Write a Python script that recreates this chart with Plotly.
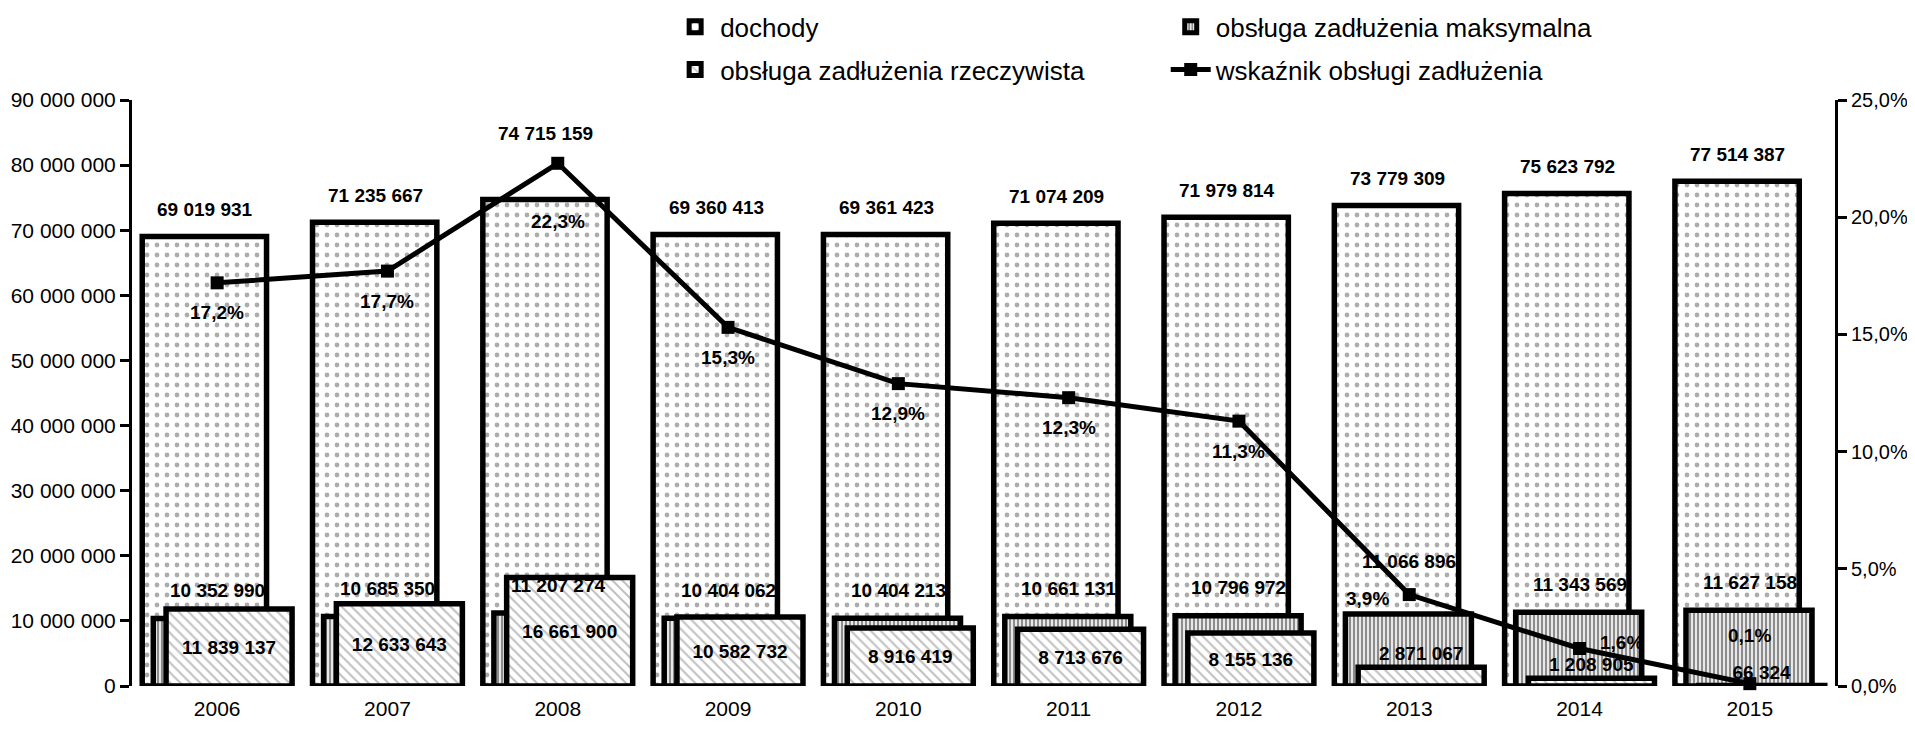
import plotly.graph_objects as go

years = ["2006", "2007", "2008", "2009", "2010", "2011", "2012", "2013", "2014", "2015"]
dochody = [69019931, 71235667, 74715159, 69360413, 69361423, 71074209, 71979814, 73779309, 75623792, 77514387]
obsl_max = [10352990, 10685350, 11207274, 10404062, 10404213, 10661131, 10796972, 11066896, 11343569, 11627158]
obsl_rzecz = [11839137, 12633643, 16661900, 10582732, 8916419, 8713676, 8155136, 2871067, 1208905, 66324]
wskaznik = [17.2, 17.7, 22.3, 15.3, 12.9, 12.3, 11.3, 3.9, 1.6, 0.1]

FONT = "Liberation Sans, Arial, sans-serif"

def fmt_num(v):
    return f"{v:,}".replace(",", " ")

def fmt_pct(v):
    return f"{v:.1f}%".replace(".", ",")

fig = go.Figure()

fig.add_trace(go.Bar(
    x=years, y=dochody, name="dochody", legend="legend", legendgroup="a",
    offset=-0.44, width=0.73,
    marker=dict(color="white", line=dict(color="black", width=5.5),
                pattern=dict(shape=".", fgcolor="#5a5a5a", bgcolor="white", size=10, solidity=0.18)),
))

fig.add_trace(go.Bar(
    x=years, y=obsl_max, name="obsługa zadłużenia maksymalna", legend="legend2", legendgroup="b",
    offset=-0.375, width=0.74,
    marker=dict(color="white", line=dict(color="black", width=5.5),
                pattern=dict(shape="|", fgcolor="#1a1a1a", bgcolor="white", size=4, solidity=0.6)),
))

rz_pos = ["inside"] * 7 + ["outside"] * 3
fig.add_trace(go.Bar(
    x=years, y=obsl_rzecz, name="obsługa zadłużenia rzeczywista", legend="legend", legendgroup="c",
    offset=-0.30, width=0.74,
    marker=dict(color="white", line=dict(color="black", width=5.5),
                pattern=dict(shape="\\", fgcolor="#808080", bgcolor="white", size=7, solidity=0.28)),
    text=[fmt_num(v) for v in obsl_rzecz], textposition=rz_pos, insidetextanchor="middle",
    constraintext="none", cliponaxis=False,
    textfont=dict(family=FONT, size=19, color="black", weight="bold"),
))

fig.add_trace(go.Scatter(
    x=years, y=wskaznik, name="wskaźnik obsługi zadłużenia", legend="legend2", legendgroup="d",
    yaxis="y2", mode="lines+markers",
    line=dict(color="black", width=5),
    marker=dict(symbol="square", size=13, color="black"),
    cliponaxis=False,
))

# income labels above the income bars (the 2008 one lifted above the line marker)
doch_shift = [(-12, 27)] * 2 + [(-12, 66)] + [(-12, 27)] * 7
for i, (v, (dx, dy)) in enumerate(zip(dochody, doch_shift)):
    fig.add_annotation(x=i, y=v, xref="x", yref="y", text=f"<b>{fmt_num(v)}</b>", showarrow=False,
                       xshift=dx, yshift=dy, font=dict(family=FONT, size=19, color="black"))

# labels for maximum debt service, placed above the bar tops
max_shift = [28] * 7 + [52, 28, 28]
for i, (v, dy) in enumerate(zip(obsl_max, max_shift)):
    fig.add_annotation(x=i, y=v, xref="x", yref="y", text=f"<b>{fmt_num(v)}</b>", showarrow=False,
                       yshift=dy, font=dict(family=FONT, size=19, color="black"))

# labels for the ratio line
pct_shift = [(0, -30)] * 2 + [(0, -58)] + [(0, -30)] * 4 + [(-42, -4), (42, 6), (0, 48)]
for i, (v, (dx, dy)) in enumerate(zip(wskaznik, pct_shift)):
    fig.add_annotation(x=i, y=v, xref="x", yref="y2", text=f"<b>{fmt_pct(v)}</b>", showarrow=False,
                       xshift=dx, yshift=dy, font=dict(family=FONT, size=19, color="black"))

fig.update_layout(
    width=1915, height=736,
    barmode="overlay",
    separators=", ",
    paper_bgcolor="white", plot_bgcolor="white",
    margin=dict(l=124, r=88, t=92, b=58, autoexpand=False),
    font=dict(family=FONT, color="black"),
    showlegend=True,
    legend=dict(x=0.316, y=1.165, xanchor="left", yanchor="top", orientation="v",
                traceorder="grouped", tracegroupgap=6, itemwidth=40,
                font=dict(family=FONT, size=26, color="black"), bgcolor="rgba(0,0,0,0)"),
    legend2=dict(x=0.607, y=1.165, xanchor="left", yanchor="top", orientation="v",
                 traceorder="grouped", tracegroupgap=6, itemwidth=40,
                 font=dict(family=FONT, size=26, color="black"), bgcolor="rgba(0,0,0,0)"),
    xaxis=dict(type="category", showline=False, showgrid=False, zeroline=False,
               ticks="outside", ticklen=4, tickcolor="rgba(0,0,0,0)",
               tickfont=dict(family=FONT, size=21, color="black"), range=[-0.5, 9.5]),
    yaxis=dict(range=[0, 90000000], dtick=10000000, tickformat=",d",
               showline=True, linecolor="black", linewidth=3,
               ticks="outside", ticklen=9, tickwidth=3, tickcolor="black",
               showgrid=False, zeroline=False,
               tickfont=dict(family=FONT, size=21, color="black")),
    yaxis2=dict(range=[0, 25], dtick=5, tickformat=".1f", ticksuffix="%",
                overlaying="y", side="right",
                showline=True, linecolor="black", linewidth=3,
                ticks="outside", ticklen=9, tickwidth=3, tickcolor="black",
                showgrid=False, zeroline=False,
                tickfont=dict(family=FONT, size=20, color="black")),
)

fig.write_html("out.html")
